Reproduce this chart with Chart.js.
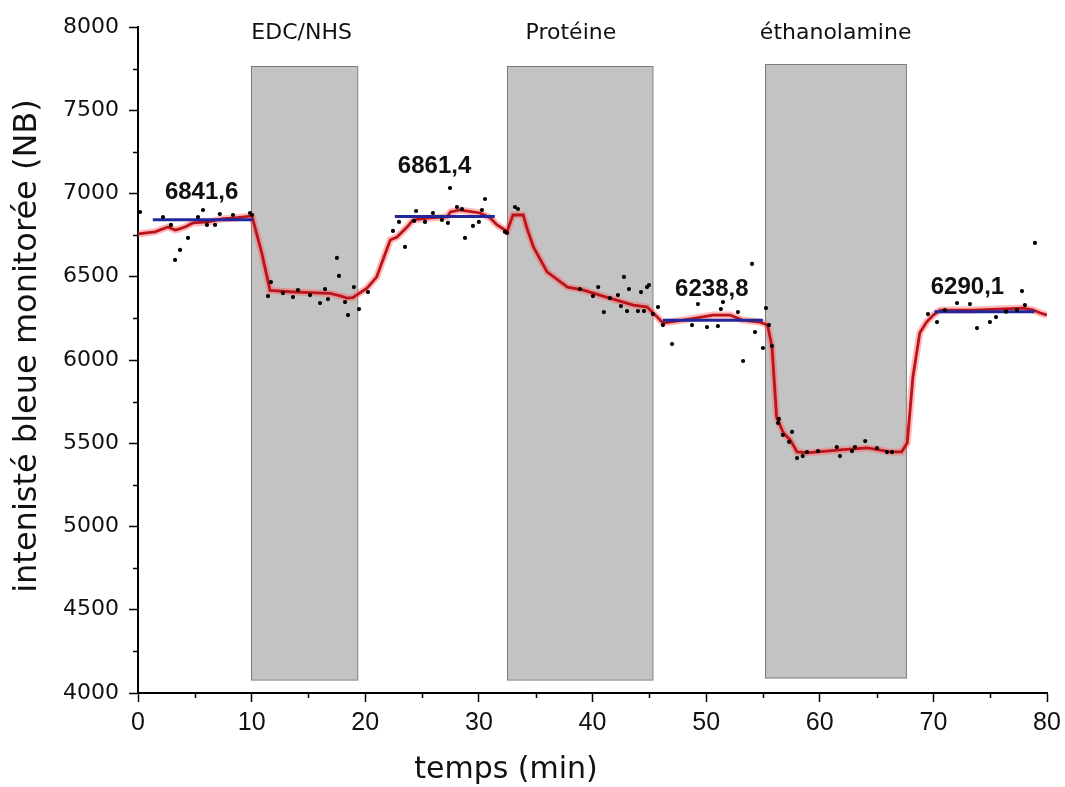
<!DOCTYPE html>
<html>
<head>
<meta charset="utf-8">
<script src="https://cdn.jsdelivr.net/npm/chart.js@4.4.1/dist/chart.umd.min.js"></script>
<style>
  html, body { margin: 0; padding: 0; background: #fff; }
  #wrap { width: 1065px; height: 787px; position: relative; }
</style>
</head>
<body>
<div id="wrap"><canvas id="c"></canvas></div>
<script>
// ---- data ----
const redX = [0.0, 1.5, 2.64, 3.26, 3.52, 4.14, 4.84, 6.16, 7.39, 8.54, 10.03, 10.9, 11.62, 13.4, 15.1, 16.9, 17.8, 18.4, 18.9, 20.15, 21.0, 22.2, 22.8, 23.7, 24.2, 25.7, 27.2, 27.5, 28.3, 30.1, 31.0, 31.6, 32.3, 32.5, 33.0, 33.9, 34.2, 34.8, 36.0, 37.8, 39.2, 41.5, 43.6, 44.8, 45.7, 46.2, 48.0, 50.6, 52.1, 53.2, 54.7, 55.4, 55.8, 56.2, 56.8, 57.4, 58.0, 58.9, 61.8, 64.2, 66.2, 67.2, 67.7, 68.2, 68.8, 69.4, 70.0, 70.6, 73.5, 77.9, 78.8, 79.4, 80.0];
const redY = [6757, 6770, 6799, 6781, 6785, 6799, 6823, 6829, 6847, 6853, 6865, 6640, 6418, 6410, 6405, 6400, 6385, 6372, 6375, 6432, 6498, 6721, 6739, 6800, 6841, 6853, 6859, 6889, 6901, 6883, 6853, 6811, 6781, 6775, 6871, 6871, 6799, 6679, 6529, 6438, 6420, 6372, 6330, 6318, 6258, 6222, 6240, 6270, 6270, 6240, 6228, 6210, 6078, 5658, 5562, 5520, 5448, 5442, 5460, 5472, 5448, 5448, 5502, 5898, 6162, 6228, 6270, 6300, 6300, 6312, 6300, 6282, 6270];

const dotX = [0.18, 2.2, 2.9, 3.26, 3.7, 4.4, 5.28, 5.72, 6.07, 6.78, 7.2, 8.36, 9.86, 10.03, 11.44, 11.7, 12.76, 13.64, 14.08, 15.14, 16.02, 16.46, 16.72, 17.51, 17.69, 18.22, 18.48, 19.0, 19.45, 20.24, 22.44, 22.97, 23.5, 24.3, 24.47, 25.26, 25.96, 26.75, 27.28, 27.46, 28.07, 28.51, 28.78, 29.48, 30.0, 30.27, 30.54, 32.3, 32.47, 33.18, 33.44, 38.9, 40.04, 40.5, 41.0, 41.54, 42.24, 42.5, 42.77, 43.04, 43.21, 44.0, 44.27, 44.53, 44.8, 44.97, 45.32, 45.76, 46.2, 47.0, 48.76, 49.28, 50.08, 51.04, 51.3, 51.48, 52.8, 53.25, 54.04, 54.3, 55.0, 55.27, 55.53, 55.8, 56.33, 56.4, 56.76, 57.3, 57.56, 58.0, 58.5, 58.88, 59.85, 61.5, 61.78, 62.84, 63.1, 64.0, 65.04, 65.92, 66.36, 69.53, 70.32, 71.0, 72.08, 73.22, 73.84, 74.98, 75.51, 76.4, 77.36, 77.8, 78.06, 78.94];
const dotY = [6889, 6859, 6811, 6601, 6661, 6733, 6859, 6901, 6811, 6811, 6877, 6871, 6883, 6871, 6384, 6468, 6402, 6378, 6420, 6390, 6342, 6426, 6366, 6613, 6505, 6348, 6270, 6438, 6306, 6408, 6775, 6829, 6679, 6835, 6895, 6829, 6883, 6841, 6823, 7033, 6919, 6907, 6733, 6805, 6829, 6901, 6967, 6769, 6763, 6919, 6907, 6426, 6384, 6438, 6288, 6372, 6390, 6324, 6499, 6294, 6426, 6294, 6408, 6294, 6438, 6450, 6276, 6318, 6210, 6096, 6210, 6336, 6198, 6204, 6306, 6348, 6288, 5994, 6577, 6168, 6072, 6312, 6210, 6084, 5622, 5646, 5550, 5508, 5568, 5411, 5423, 5447, 5453, 5477, 5423, 5453, 5477, 5513, 5471, 5447, 5447, 6276, 6228, 6300, 6342, 6336, 6192, 6228, 6258, 6290, 6300, 6414, 6330, 6703];

const meanValues = [6841.6, 6861.4, 6238.8, 6290.1];
const meanStart = [1.3, 22.6, 46.2, 70.1];
const meanEnd = [10.1, 31.4, 55.0, 78.9];
const meanLabels = ['6841,6', '6861,4', '6238,8', '6290,1'];
const meanLabelX = [5.6, 26.1, 50.5, 73.0];
const meanLabelY = [7009, 7165, 6426, 6438];

const stepNames = ['EDC/NHS', 'Protéine', 'éthanolamine'];
const stepStart = [9.95, 32.5, 55.2];
const stepEnd = [19.3, 45.3, 67.6];
const stepTop = [7765, 7765, 7775];
const stepBottom = [4080, 4080, 4090];
const stepLabelX = [14.4, 38.1, 61.4];
const stepLabelY = [7964, 7964, 7964];

const xTicks = [0, 10, 20, 30, 40, 50, 60, 70, 80];
const yTicks = [4000, 4500, 5000, 5500, 6000, 6500, 7000, 7500, 8000];
const xTitle = 'temps (min)';
const yTitle = 'intenisté bleue monitorée (NB)';

// ---- build datasets ----
const redPts = redX.map((x, i) => ({x, y: redY[i]}));
const dotPts = dotX.map((x, i) => ({x, y: dotY[i]}));
const meanSets = meanValues.map((v, i) => ({
  type: 'line',
  data: [{x: meanStart[i], y: v}, {x: meanEnd[i], y: v}],
  borderColor: '#22279c',
  borderWidth: 3,
  pointRadius: 0,
  fill: false,
  order: 1
}));

const bgPlugin = {
  id: 'steps',
  beforeDatasetsDraw(chart) {
    const {ctx, scales: {x, y}} = chart;
    ctx.save();
    stepNames.forEach((n, i) => {
      const x0 = x.getPixelForValue(stepStart[i]);
      const x1 = x.getPixelForValue(stepEnd[i]);
      const y0 = y.getPixelForValue(stepTop[i]);
      const y1 = y.getPixelForValue(stepBottom[i]);
      ctx.fillStyle = '#c3c3c3';
      ctx.fillRect(x0, y0, x1 - x0, y1 - y0);
      ctx.strokeStyle = '#7a7a7a';
      ctx.lineWidth = 1;
      ctx.strokeRect(Math.round(x0) + 0.5, Math.round(y0) + 0.5, x1 - x0, y1 - y0);
    });
    ctx.restore();
  },
  afterDatasetsDraw(chart) {
    const {ctx, scales: {x, y}} = chart;
    ctx.save();
    ctx.textAlign = 'center';
    ctx.textBaseline = 'middle';
    ctx.fillStyle = '#111';
    ctx.font = '22px "DejaVu Sans"';
    stepNames.forEach((n, i) => {
      ctx.fillText(n, x.getPixelForValue(stepLabelX[i]), y.getPixelForValue(stepLabelY[i]));
    });
    ctx.font = 'bold 24px "Liberation Sans"';
    meanLabels.forEach((t, i) => {
      ctx.fillText(t, x.getPixelForValue(meanLabelX[i]), y.getPixelForValue(meanLabelY[i]));
    });
    // minor ticks
    ctx.strokeStyle = '#000';
    ctx.lineWidth = 1.5;
    for (let v = 4250; v < 8000; v += 500) {
      const py = Math.round(y.getPixelForValue(v)) + 0.5;
      ctx.beginPath(); ctx.moveTo(x.left - 5, py); ctx.lineTo(x.left, py); ctx.stroke();
    }
    for (let v = 5; v < 80; v += 10) {
      const px = Math.round(x.getPixelForValue(v)) + 0.5;
      ctx.beginPath(); ctx.moveTo(px, y.bottom); ctx.lineTo(px, y.bottom + 5); ctx.stroke();
    }
    // axis titles
    ctx.fillStyle = '#111';
    ctx.font = '30px "DejaVu Sans"';
    ctx.fillText(xTitle, 506, 770);
    ctx.save();
    ctx.translate(28, 346);
    ctx.rotate(-Math.PI / 2);
    ctx.font = '32px "DejaVu Sans"';
    ctx.fillText(yTitle, 0, 0);
    ctx.restore();
    ctx.restore();
  }
};

new Chart(document.getElementById('c'), {
  type: 'scatter',
  data: {
    datasets: [
      {
        type: 'scatter',
        data: dotPts,
        backgroundColor: '#000',
        borderColor: '#000',
        pointRadius: 2.1,
        borderWidth: 0,
        order: 0
      },
      ...meanSets,
      {
        type: 'line',
        data: redPts,
        borderColor: '#b8141a',
        borderWidth: 2.8,
        pointRadius: 0,
        tension: 0,
        fill: false,
        order: 2
      },
      {
        type: 'line',
        data: redPts,
        borderColor: 'rgba(255,100,100,0.45)',
        borderWidth: 7,
        pointRadius: 0,
        tension: 0,
        fill: false,
        order: 3
      }
    ]
  },
  options: {
    responsive: true,
    maintainAspectRatio: false,
    animation: false,
    events: [],
    layout: { padding: { top: 27, right: 18, left: 0, bottom: 0 } },
    plugins: { legend: { display: false }, tooltip: { enabled: false } },
    scales: {
      x: {
        type: 'linear',
        min: 0, max: 80,
        afterBuildTicks(s) { s.ticks = xTicks.map(v => ({value: v})); },
        afterFit(s) { s.height = 94; s.paddingRight = 0; s.paddingLeft = 0; },
        grid: { drawOnChartArea: false, tickLength: 9, tickWidth: 1.5, tickColor: '#000' },
        border: { color: '#000', width: 2 },
        ticks: { color: '#111', font: { family: '"Liberation Sans Narrow", "Liberation Sans"', size: 25 }, padding: 6, maxRotation: 0, callback: v => String(v) },
        title: { display: false }
      },
      y: {
        type: 'linear',
        min: 4000, max: 8000,
        afterBuildTicks(s) { s.ticks = yTicks.map(v => ({value: v})); },
        afterFit(s) { s.width = 138; },
        grid: { drawOnChartArea: false, tickLength: 9, tickWidth: 1.5, tickColor: '#000' },
        border: { color: '#000', width: 2 },
        ticks: { color: '#111', font: { family: 'DejaVu Sans', size: 22 }, padding: 10, callback: v => String(v) },
        title: { display: false }
      }
    }
  },
  plugins: [bgPlugin]
});
</script>
</body>
</html>
